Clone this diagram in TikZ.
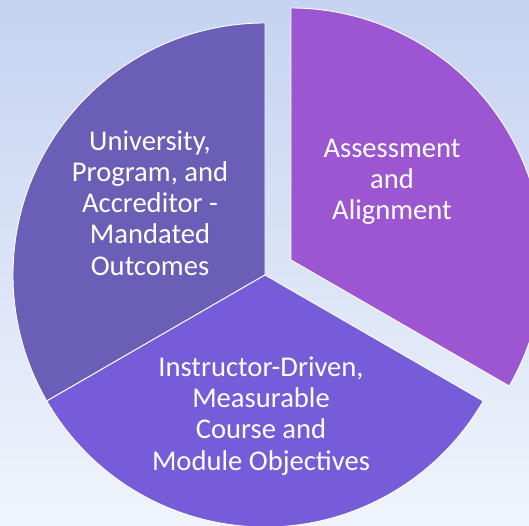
\documentclass[tikz,border=0pt]{standalone}
\usepackage{fontspec}
\setmainfont{Carlito}
\definecolor{bgtop}{HTML}{C5D3F1}
\definecolor{bgbot}{HTML}{F0F4FC}
\definecolor{segleft}{HTML}{6A5EB6}
\definecolor{segbottom}{HTML}{765CD8}
\definecolor{segright}{HTML}{9C56D2}
\tikzset{
  seg/.style={draw=white, line width=0.9pt, line join=miter},
  lbl/.style={text=white, align=center, inner sep=0pt, font=\fontsize{28.6}{31.2}\selectfont}
}
\begin{document}
\begin{tikzpicture}[x=1pt,y=1pt]
\useasboundingbox (0,0) rectangle (529,526);
\clip (0,0) rectangle (529,526);
\shade[top color=bgtop, bottom color=bgbot] (0,0) rectangle (529,526);
\coordinate (C) at (265,251);
\coordinate (R) at (291,266);
\fill[seg, fill=segleft] (C) -- ++(90:252) arc[start angle=90, end angle=210, radius=252] -- cycle;
\fill[seg, fill=segbottom] (C) -- ++(210:252) arc[start angle=210, end angle=330, radius=252] -- cycle;
\fill[seg, fill=segright] (R) -- ++(330:252) arc[start angle=-30, end angle=90, radius=252] -- cycle;
\node[lbl] (t1) at (150,323) {University,\\Program, and\\Accreditor -\\Mandated\\Outcomes};
\node[lbl] (t2) at (392,344) {Assessment\\and\\Alignment};
\node[lbl] (t3) at (261,110) {Instructor-Driven,\\Measurable\\Course and\\Module Objectives};
\end{tikzpicture}
\end{document}
